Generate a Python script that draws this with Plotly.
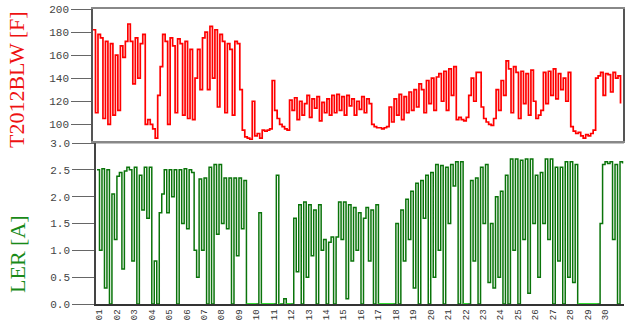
import plotly.graph_objects as go

# Top series: T2012BLW [F]
temp_f = [182, 110, 178, 175, 105, 172, 100, 170, 108,
          160, 112, 168, 158, 172,
          187,
          172, 135, 175, 140, 170, 178,
          100,
          104, 100, 96, 88,
          125, 150, 178,
          172, 100, 175, 168, 110, 174,
          170, 108, 172, 105, 165, 104,
          140, 165, 130, 175, 180, 130,
          185, 140, 182, 115, 178, 172,
          110, 170, 165, 108, 172, 170,
          130, 95,
          89, 88, 87, 120,
          90, 92, 88,
          95, 94, 95, 96,
          138, 112,
          105, 100, 98, 96, 95,
          121, 112, 123, 104,
          120, 108, 118, 125, 106, 122, 114, 124, 103, 119, 110, 122, 108,
          125, 110, 126, 112, 124, 108, 125,
          116, 122, 108, 120, 113, 124, 110, 122, 118,
          100, 98, 97, 97, 96, 97, 98,
          115, 102, 122, 108, 126, 104, 124, 110, 128, 112, 130, 115, 135,
          130, 110, 138, 118, 140, 112, 141,
          144, 120, 146, 112, 148, 125, 150,
          104, 106, 104, 103, 106,
          125, 140, 120, 145, 145, 115,
          105, 102, 100, 99, 105,
          130, 112, 138, 125, 155,
          148, 110, 150,
          145, 105, 146, 118, 144, 108, 147, 120, 105,
          108, 112, 145, 118,
          146, 125, 148, 122, 144, 130,
          140, 120, 145,
          98,
          94, 92, 93, 90, 88, 91, 90, 92, 95,
          140, 142, 145, 125, 144, 143, 128, 145, 140, 142,
          118]

# Bottom series: LER [A]
ler_a = [2.5, 1.0, 2.52, 0.3, 2.5, 0, 2.05, 1.2, 2.38, 2.45,
         0.65, 2.48, 2.55, 2.5, 0.8, 2.55, 0, 2.4, 1.75, 2.55,
         1.6, 2.55, 0, 0.8, 0, 1.7, 2.05, 2.5, 1.7, 2.5,
         2.0, 2.5, 0, 2.5, 1.5, 2.52, 1.4, 2.5, 2.45, 1.0,
         0.5, 2.33, 1.0, 2.35, 0, 2.55, 0, 2.6, 1.3, 2.6,
         1.5, 2.35, 1.4, 2.35, 0, 2.35, 0.9, 2.35, 1.4, 2.3,
         0, 0, 0, 0, 0, 1.7, 0, 0, 0, 0,
         0, 0, 2.4, 0, 0, 0.1, 0, 0, 0, 1.6,
         0.6, 1.85, 0, 1.9, 0.5, 1.85, 0.9, 1.75, 0, 1.85,
         1.0, 1.2, 0, 1.15, 1.25, 0, 1.25, 1.9, 1.2, 1.9,
         0.1, 1.85, 0.8, 1.8, 1.0, 1.7, 0, 1.6, 1.8, 0.8,
         1.75, 0, 1.85, 0, 0, 0, 0, 0, 0, 0,
         1.5, 0, 1.75, 0.8, 1.95, 1.2, 2.1, 0.3, 2.25, 0,
         2.3, 1.6, 2.4, 0, 2.45, 0.5, 2.6, 1.0, 2.58, 0,
         2.55, 1.5, 2.6, 2.2, 2.65, 0, 2.65, 0, 0, 0,
         2.3, 0.8, 2.35, 0, 2.55, 1.5, 2.6, 0.4, 1.5, 0.3,
         2.0, 0.5, 2.1, 0, 2.4, 0, 2.7, 1.0, 2.7, 0,
         2.68, 1.2, 2.7, 0.2, 2.7, 1.5, 2.4, 0.5, 2.45, 1.5,
         2.7, 1.2, 2.7, 0, 2.55, 0.8, 2.55, 0, 2.65, 0.5,
         2.65, 0.4, 2.6, 0, 0, 0, 0, 0, 0, 0,
         0, 0, 1.5, 2.6, 2.65, 2.62, 2.65, 1.2, 2.6, 0,
         2.65, 2.62]

temp_ticks = [100, 120, 140, 160, 180, 200]
ler_ticks = [0.0, 0.5, 1.0, 1.5, 2.0, 2.5, 3.0]
ler_tick_text = ["0.0", "0.5", "1.0", "1.5", "2.0", "2.5", "3.0"]
x_tick_pos = list(range(1, 212, 7))
x_tick_text = ["%02d" % (k + 1) for k in range(len(x_tick_pos))]

idx_t = list(range(len(temp_f)))
idx_l = list(range(len(ler_a)))
ler_zero = [0 if v == 0 else None for v in ler_a]

fig = go.Figure()
fig.add_trace(go.Scatter(x=idx_t, y=temp_f, mode="lines", line=dict(color="#ff0000", width=1.7, shape="hv"),
                         xaxis="x", yaxis="y", showlegend=False))
fig.add_trace(go.Scatter(x=idx_l, y=ler_a, mode="lines", line=dict(color="#0a740a", width=1.5, shape="hv"),
                         xaxis="x2", yaxis="y2", showlegend=False))
fig.add_trace(go.Scatter(x=idx_l, y=ler_zero, mode="lines", line=dict(color="#33dd33", width=2, shape="hv"),
                         xaxis="x2", yaxis="y2", showlegend=False, connectgaps=False))

tickfont = dict(family="Liberation Mono", size=11, color="#444")

fig.update_layout(
    width=626, height=323,
    margin=dict(l=0, r=0, t=0, b=0, autoexpand=False),
    paper_bgcolor="white", plot_bgcolor="white",
    xaxis=dict(domain=[93 / 626, 623 / 626], anchor="y", range=[0, len(temp_f)], automargin=False,
               showticklabels=False, ticks="", showgrid=False, zeroline=False,
               showline=True, linecolor="#888", linewidth=1.5, mirror=True),
    yaxis=dict(domain=[(323 - 141) / 323, (323 - 9) / 323], anchor="x", range=[85.5, 200], automargin=False,
               tickvals=temp_ticks, ticks="outside", ticklen=20, tickcolor="#666", tickwidth=1.2,
               tickfont=tickfont, showgrid=False, zeroline=False,
               showline=True, linecolor="#555", linewidth=1.5, mirror=True),
    xaxis2=dict(domain=[96 / 626, 624 / 626], anchor="y2", range=[-0.4, len(ler_a) - 0.4], automargin=False,
                tickvals=x_tick_pos, ticktext=x_tick_text, tickangle=-90,
                tickfont=dict(family="Liberation Mono", size=9, color="#333"),
                ticks="", showgrid=False, zeroline=False,
                showline=True, linecolor="#333", linewidth=1.5, mirror=False),
    yaxis2=dict(domain=[(323 - 304) / 323, (323 - 143) / 323], anchor="x2", range=[0, 3.0], automargin=False,
                tickvals=ler_ticks, ticktext=ler_tick_text, ticks="outside", ticklen=22,
                tickcolor="#666", tickwidth=1.2,
                tickfont=tickfont, showgrid=False, zeroline=False,
                showline=True, linecolor="#444", linewidth=1.5),
    annotations=[
        dict(text="T2012BLW [F]", x=17 / 626, y=1 - 80 / 323, xref="paper", yref="paper",
             xanchor="center", yanchor="middle",
             textangle=-90, showarrow=False, font=dict(family="Liberation Serif", size=22, color="#ee1111")),
        dict(text="LER [A]", x=17 / 626, y=1 - 254 / 323, xref="paper", yref="paper",
             xanchor="center", yanchor="middle",
             textangle=-90, showarrow=False, font=dict(family="Liberation Serif", size=22, color="#188a18")),
    ],
)
# top border line of lower panel
fig.add_shape(type="line", xref="x2 domain", yref="y2 domain", x0=0, x1=1, y0=1, y1=1,
              line=dict(color="#888", width=1.2))

fig.write_html("out.html", config={"displayModeBar": False},
               post_script="document.body.style.margin='0';document.body.style.overflow='hidden';")
